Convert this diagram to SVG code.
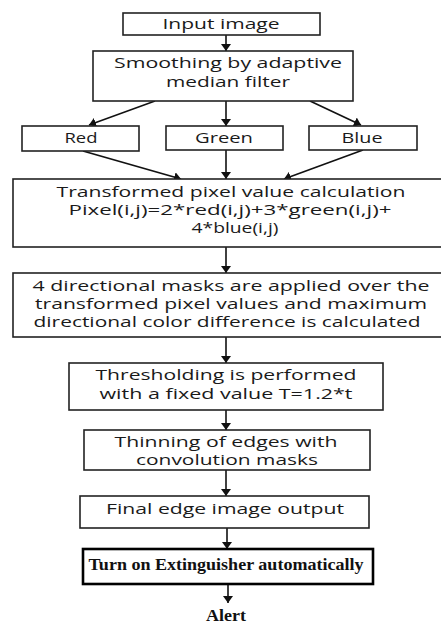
<svg xmlns="http://www.w3.org/2000/svg" width="441" height="626" viewBox="0 0 441 626">
<style>
.box{fill:#fff;stroke:#222;stroke-width:1.6}
.boxb{fill:#fff;stroke:#000;stroke-width:2.6}
.t{font-family:"Open Sans","Liberation Sans",sans-serif;font-size:14px;fill:#1a1a1a;text-anchor:middle}
.s{font-family:"Liberation Serif","DejaVu Serif",serif;font-size:17px;font-weight:bold;fill:#111;text-anchor:middle}
.c{stroke:#111;stroke-width:1.6;fill:none;marker-end:url(#ah)}
</style>
<defs>
<marker id="ah" markerUnits="userSpaceOnUse" markerWidth="10" markerHeight="10" refX="7" refY="5" orient="auto">
<path d="M0,0 L7,5 L0,10 z" fill="#111"/>
</marker>
</defs>
<rect width="441" height="626" fill="#fff"/>
<g id="connectors">
<line class="c" x1="226" y1="35" x2="226" y2="51"/>
<line class="c" x1="155" y1="101" x2="89" y2="125"/>
<line class="c" x1="226" y1="101" x2="226" y2="126"/>
<line class="c" x1="310" y1="101" x2="361" y2="125"/>
<line class="c" x1="83" y1="151" x2="181" y2="179"/>
<line class="c" x1="226" y1="150" x2="226" y2="179"/>
<line class="c" x1="363" y1="150" x2="284" y2="179"/>
<line class="c" x1="226" y1="247" x2="226" y2="273"/>
<line class="c" x1="226" y1="337" x2="226" y2="363"/>
<line class="c" x1="226" y1="410" x2="226" y2="430"/>
<line class="c" x1="226" y1="470" x2="226" y2="496"/>
<line class="c" x1="227" y1="528" x2="227" y2="549"/>
<line class="c" x1="228" y1="584" x2="228" y2="603"/>
</g>
<g id="input">
<rect class="box" x="123" y="13" width="197" height="22"/>
<text class="t" x="221" y="29" textLength="117" lengthAdjust="spacingAndGlyphs">Input image</text>
</g>
<g id="smoothing">
<rect class="box" x="93" y="51" width="260" height="50"/>
<text class="t" x="228" y="68" textLength="228" lengthAdjust="spacingAndGlyphs">Smoothing by adaptive</text>
<text class="t" x="228" y="87" textLength="124" lengthAdjust="spacingAndGlyphs">median filter</text>
</g>
<g id="red">
<rect class="box" x="22" y="126" width="117" height="25"/>
<text class="t" x="81" y="143" textLength="33" lengthAdjust="spacingAndGlyphs">Red</text>
</g>
<g id="green">
<rect class="box" x="166" y="126" width="117" height="24"/>
<text class="t" x="224" y="143" textLength="58" lengthAdjust="spacingAndGlyphs">Green</text>
</g>
<g id="blue">
<rect class="box" x="309" y="126" width="108" height="24"/>
<text class="t" x="362" y="143" textLength="41" lengthAdjust="spacingAndGlyphs">Blue</text>
</g>
<g id="transformed">
<rect class="box" x="13" y="179" width="432" height="68"/>
<text class="t" x="231" y="197" textLength="349" lengthAdjust="spacingAndGlyphs">Transformed pixel value calculation</text>
<text class="t" x="230" y="215" textLength="323" lengthAdjust="spacingAndGlyphs">Pixel(i,j)=2*red(i,j)+3*green(i,j)+</text>
<text class="t" x="235" y="233" textLength="87" lengthAdjust="spacingAndGlyphs">4*blue(i,j)</text>
</g>
<g id="masks">
<rect class="box" x="13" y="273" width="432" height="64"/>
<text class="t" x="231" y="291" textLength="397" lengthAdjust="spacingAndGlyphs">4 directional masks are applied over the</text>
<text class="t" x="231" y="309" textLength="392" lengthAdjust="spacingAndGlyphs">transformed pixel values and maximum</text>
<text class="t" x="227" y="327" textLength="387" lengthAdjust="spacingAndGlyphs">directional color difference is calculated</text>
</g>
<g id="threshold">
<rect class="box" x="69" y="363" width="314" height="47"/>
<text class="t" x="226" y="380" textLength="261" lengthAdjust="spacingAndGlyphs">Thresholding is performed</text>
<text class="t" x="226" y="399" textLength="253" lengthAdjust="spacingAndGlyphs">with a fixed value T=1.2*t</text>
</g>
<g id="thinning">
<rect class="box" x="84" y="430" width="286" height="40"/>
<text class="t" x="226" y="447" textLength="223" lengthAdjust="spacingAndGlyphs">Thinning of edges with</text>
<text class="t" x="227" y="465" textLength="182" lengthAdjust="spacingAndGlyphs">convolution masks</text>
</g>
<g id="final">
<rect class="box" x="80" y="496" width="289" height="32"/>
<text class="t" x="225" y="514" textLength="238" lengthAdjust="spacingAndGlyphs">Final edge image output</text>
</g>
<g id="extinguisher">
<rect class="boxb" x="83" y="549" width="290" height="35"/>
<text class="s" x="226" y="570" textLength="275" lengthAdjust="spacingAndGlyphs">Turn on Extinguisher automatically</text>
</g>
<g id="alert">
<text class="s" x="226" y="621" textLength="40" lengthAdjust="spacingAndGlyphs">Alert</text>
</g>
</svg>
